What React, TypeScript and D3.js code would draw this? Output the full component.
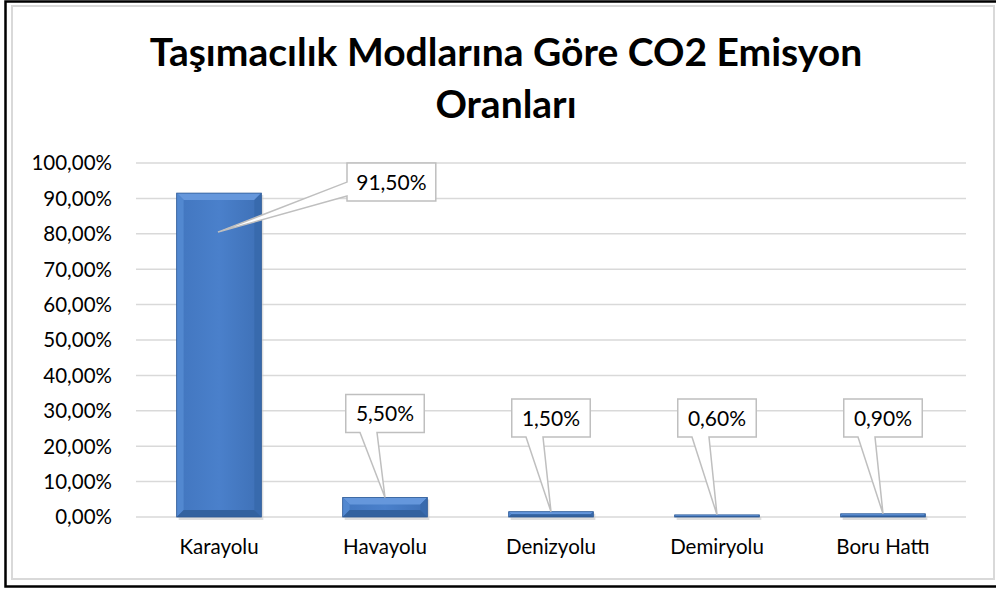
import React, { useRef, useEffect } from "react";
import * as d3 from "d3";

// chart data
const categories = ["Karayolu", "Havayolu", "Denizyolu", "Demiryolu", "Boru Hattı"];
const values = [91.5, 5.5, 1.5, 0.6, 0.9];
const labels = ["91,50%", "5,50%", "1,50%", "0,60%", "0,90%"];
const yTicks = [0, 10, 20, 30, 40, 50, 60, 70, 80, 90, 100];
const titleLines = ["Taşımacılık Modlarına Göre CO2 Emisyon", "Oranları"];

const W = 996;
const H = 589;
const FONT = "Lato, 'Open Sans', sans-serif";

const App = () => {
    const svgRef = useRef<SVGSVGElement>(null);

    useEffect(() => {
        const svg = d3.select(svgRef.current);
        svg.selectAll("*").remove();

        const plot = { left: 136, right: 966, top: 163, bottom: 517 };

        const x = d3.scaleBand()
            .domain(categories)
            .range([plot.left, plot.right])
            .paddingInner(0.49)
            .paddingOuter(0.245);

        const y = d3.scaleLinear()
            .domain([0, 100])
            .range([plot.bottom, plot.top]);

        // background + frames
        svg.append("rect").attr("width", W).attr("height", H).attr("fill", "#ffffff");
        svg.append("rect")
            .attr("x", 12).attr("y", 6).attr("width", 982).attr("height", 573)
            .attr("fill", "none").attr("stroke", "#d9d9d9").attr("stroke-width", 2);
        svg.append("rect")
            .attr("x", 5.5).attr("y", 1.5).attr("width", 1010).attr("height", 585)
            .attr("fill", "none").attr("stroke", "#000").attr("stroke-width", 2.5);

        // title
        svg.append("text")
            .attr("text-anchor", "middle")
            .style("font-family", FONT)
            .style("font-weight", "bold")
            .style("font-size", "39px")
            .attr("fill", "#000")
            .selectAll("tspan")
            .data(titleLines)
            .enter()
            .append("tspan")
            .attr("x", 506)
            .attr("y", (d, i) => 66 + i * 52)
            .text(d => d);

        // grid
        svg.append("g")
            .selectAll("line")
            .data(yTicks)
            .enter()
            .append("line")
            .attr("x1", plot.left)
            .attr("x2", plot.right)
            .attr("y1", d => y(d))
            .attr("y2", d => y(d))
            .attr("stroke", "#d9d9d9")
            .attr("stroke-width", 1.5);

        // y tick labels
        svg.append("g")
            .selectAll("text")
            .data(yTicks)
            .enter()
            .append("text")
            .attr("x", 112)
            .attr("y", d => y(d))
            .attr("dy", "0.36em")
            .attr("text-anchor", "end")
            .style("font-family", FONT)
            .style("font-size", "20.5px")
            .attr("fill", "#000")
            .text(d => d3.format(".2f")(d).replace(".", ",") + "%");

        // category labels
        svg.append("g")
            .selectAll("text")
            .data(categories)
            .enter()
            .append("text")
            .attr("x", d => x(d)! + x.bandwidth() / 2)
            .attr("y", 554)
            .attr("text-anchor", "middle")
            .style("font-family", FONT)
            .style("font-size", "20.5px")
            .attr("fill", "#000")
            .text(d => d);

        // gradient for bars
        const defs = svg.append("defs");
        const grad = defs.append("linearGradient").attr("id", "barGrad")
            .attr("x1", "0").attr("x2", "1").attr("y1", "0").attr("y2", "0");
        grad.append("stop").attr("offset", "0").attr("stop-color", "#4276bf");
        grad.append("stop").attr("offset", "0.5").attr("stop-color", "#4a80cb");
        grad.append("stop").attr("offset", "1").attr("stop-color", "#3e70b6");

        const bars = svg.append("g");
        categories.forEach((c, i) => {
            const x0 = x(c)!;
            const bw = x.bandwidth();
            const x1 = x0 + bw;
            const yTop = y(values[i]);
            const yBot = y(0);
            const h = yBot - yTop;
            const b = Math.min(7, h / 2);

            // shadow
            bars.append("rect")
                .attr("x", x0 + 2).attr("y", yTop + 2)
                .attr("width", bw).attr("height", h + 1)
                .attr("fill", "#c8c8c8").attr("opacity", 0.6);

            bars.append("rect")
                .attr("x", x0).attr("y", yTop)
                .attr("width", bw).attr("height", h)
                .attr("fill", "url(#barGrad)");

            const poly = (pts: number[][], fill: string) =>
                bars.append("polygon")
                    .attr("points", pts.map(p => p.join(",")).join(" "))
                    .attr("fill", fill);

            poly([[x0, yTop], [x1, yTop], [x1 - b, yTop + b], [x0 + b, yTop + b]], "#6597dc");
            poly([[x0, yTop], [x0 + b, yTop + b], [x0 + b, yBot - b], [x0, yBot]], "#5288d0");
            poly([[x1, yTop], [x1, yBot], [x1 - b, yBot - b], [x1 - b, yTop + b]], "#386aad");
            poly([[x0, yBot], [x0 + b, yBot - b], [x1 - b, yBot - b], [x1, yBot]], "#33629f");

            bars.append("rect")
                .attr("x", x0).attr("y", yTop)
                .attr("width", bw).attr("height", h)
                .attr("fill", "none")
                .attr("stroke", "#2f5b96")
                .attr("stroke-width", 0.8);
        });

        // callouts
        const callouts = svg.append("g");
        categories.forEach((c, i) => {
            const cx = x(c)! + x.bandwidth() / 2;
            const label = labels[i];
            const bw = label.length * 10.3 + 27;
            const bh = 38;
            let path: string;
            let tx: number;
            let ty: number;
            if (values[i] > 50) {
                const tipX = cx - 1;
                const tipY = y(values[i]) + 39;
                const bx0 = cx + 128;
                const by0 = y(values[i]) - 30;
                const bx1 = bx0 + bw;
                const by1 = by0 + bh;
                path = `M${bx0},${by0}L${bx1},${by0}L${bx1},${by1}L${bx0},${by1}L${bx0},${by0 + 33}L${tipX},${tipY}L${bx0},${by0 + 19}Z`;
                tx = (bx0 + bx1) / 2;
                ty = (by0 + by1) / 2;
            } else {
                const tipX = cx;
                const tipY = y(values[i]);
                const by1 = Math.min(tipY - 65, 437);
                const by0 = by1 - bh;
                const bx0 = cx - bw / 2;
                const bx1 = cx + bw / 2;
                path = `M${bx0},${by0}L${bx1},${by0}L${bx1},${by1}L${cx - 8},${by1}L${tipX},${tipY}L${cx - 25},${by1}L${bx0},${by1}Z`;
                tx = cx;
                ty = (by0 + by1) / 2;
            }
            callouts.append("path")
                .attr("d", path)
                .attr("fill", "#ffffff")
                .attr("stroke", "#bfbfbf")
                .attr("stroke-width", 1.5)
                .attr("stroke-linejoin", "miter");
            callouts.append("text")
                .attr("x", tx)
                .attr("y", ty)
                .attr("dy", "0.36em")
                .attr("text-anchor", "middle")
                .style("font-family", FONT)
                .style("font-size", "21px")
                .attr("fill", "#000")
                .text(label);
        });
    }, []);

    return (
        <div style={{ position: "fixed", left: 0, top: 0 }}>
            <svg ref={svgRef} width={W} height={H} style={{ display: "block" }}></svg>
        </div>
    );
};

export default App;
